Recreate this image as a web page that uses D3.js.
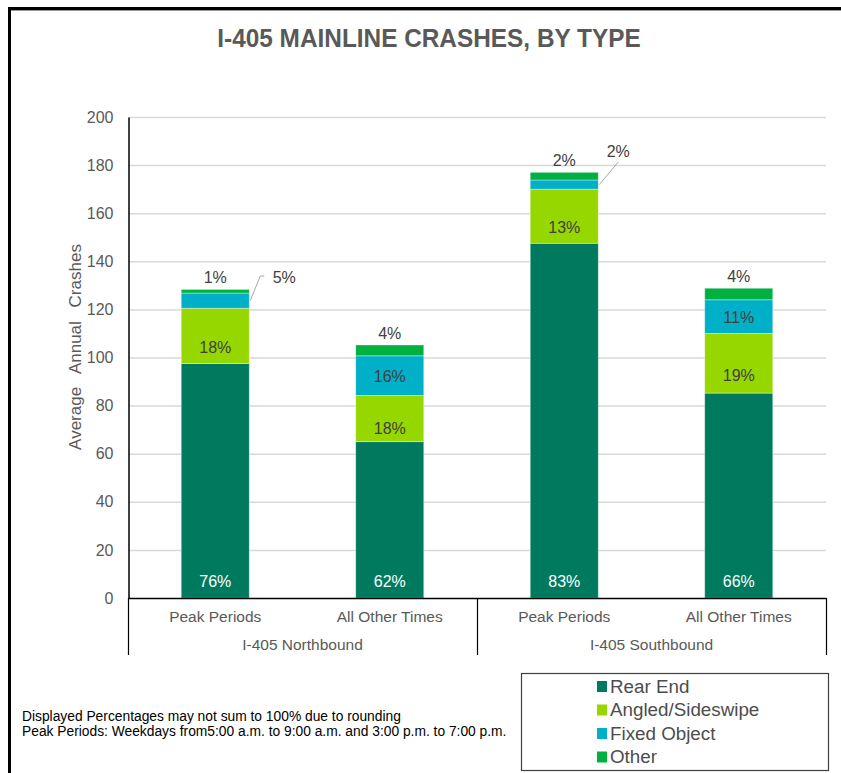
<!DOCTYPE html>
<html>
<head>
  <meta charset="utf-8" />
  <style>
    body { margin: 0; background: #fff; }
    text { font-family: "Liberation Sans", Arial, sans-serif; }
  </style>
</head>
<body>
  <svg id="container" width="841" height="773"></svg>
  <script src="https://cdn.jsdelivr.net/npm/d3@7/dist/d3.min.js"></script>
<script>
var groups = ['I-405 Northbound', 'I-405 Northbound', 'I-405 Southbound', 'I-405 Southbound'];
var periods = ['Peak Periods', 'All Other Times', 'Peak Periods', 'All Other Times'];
var crashTypes = ['Rear End', 'Angled/Sideswipe', 'Fixed Object', 'Other'];
var rearEnd = [97.5, 65, 147.5, 85.2];
var angled = [23, 19.2, 22.5, 24.8];
var fixedObject = [6.3, 16.5, 3.8, 14];
var other = [1.5, 4.5, 3.2, 4.8];
var yTicks = [0, 20, 40, 60, 80, 100, 120, 140, 160, 180, 200];
var colors = ['#007a5e', '#97d700', '#00afc8', '#00b140'];

var svg = d3.select('#container');
var plotLeft = 128, plotRight = 826, plotTop = 117, plotBottom = 598;

// frame
svg.append('path')
  .attr('d', 'M9.5,773V8.5H841')
  .attr('fill', 'none')
  .attr('stroke', '#000')
  .attr('stroke-width', 3);
svg.append('line')
  .attr('x1', 11).attr('x2', 841).attr('y1', 10.5).attr('y2', 10.5)
  .attr('stroke', '#999').attr('stroke-width', 1);

svg.append('text')
  .attr('transform', 'translate(429,47) scale(0.92,1)')
  .attr('text-anchor', 'middle')
  .attr('font-size', 26.5).attr('font-weight', 'bold')
  .attr('fill', '#595959')
  .text('I-405 MAINLINE CRASHES, BY TYPE');

var y = d3.scaleLinear().domain([0, 200]).range([plotBottom, plotTop]);
var x = d3.scaleBand().domain(d3.range(4)).range([plotLeft, plotRight]);
var barW = x.bandwidth() * 0.39;

// gridlines
svg.append('g').selectAll('line')
  .data(yTicks.slice(1))
  .enter().append('line')
  .attr('x1', plotLeft).attr('x2', plotRight)
  .attr('y1', function (d) { return y(d) + 0.5; })
  .attr('y2', function (d) { return y(d) + 0.5; })
  .attr('stroke', '#d9d9d9').attr('stroke-width', 1.5);

var yAxis = svg.append('g')
  .attr('transform', 'translate(' + (plotLeft + 0.5) + ',0)')
  .call(d3.axisLeft(y).tickValues(yTicks).tickSize(0).tickPadding(15));
yAxis.select('.domain').attr('stroke', '#000').attr('stroke-width', 1.5);
yAxis.selectAll('text')
  .attr('font-family', '"Liberation Sans", Arial, sans-serif')
  .attr('font-size', 16).attr('fill', '#595959');

svg.append('text')
  .attr('transform', 'translate(81,347) rotate(-90)')
  .attr('text-anchor', 'middle')
  .attr('font-size', 17).attr('fill', '#595959')
  .attr('word-spacing', 9)
  .text('Average Annual Crashes');

// stacked bars
var rows = d3.range(4).map(function (i) {
  return { 'Rear End': rearEnd[i], 'Angled/Sideswipe': angled[i], 'Fixed Object': fixedObject[i], 'Other': other[i], idx: i };
});
var stacked = d3.stack().keys(crashTypes)(rows);
var totals = rows.map(function (r) { return d3.sum(crashTypes, function (k) { return r[k]; }); });

var layer = svg.append('g').selectAll('g')
  .data(stacked)
  .enter().append('g')
  .attr('fill', function (d, i) { return colors[i]; });
layer.selectAll('rect')
  .data(function (d) { return d; })
  .enter().append('rect')
  .attr('x', function (d) { return x(d.data.idx) + (x.bandwidth() - barW) / 2; })
  .attr('width', barW)
  .attr('y', function (d) { return y(d[1]); })
  .attr('height', function (d) { return y(d[0]) - y(d[1]); })
  .attr('stroke', 'rgba(255,255,255,0.45)').attr('stroke-width', 0.8);

// x axis + category lines
svg.append('line')
  .attr('x1', plotLeft).attr('x2', plotRight).attr('y1', plotBottom + 0.5).attr('y2', plotBottom + 0.5)
  .attr('stroke', '#000').attr('stroke-width', 1.5);
svg.append('g').selectAll('line')
  .data([plotLeft, (plotLeft + plotRight) / 2, plotRight])
  .enter().append('line')
  .attr('x1', function (d) { return d + 0.5; }).attr('x2', function (d) { return d + 0.5; })
  .attr('y1', plotBottom).attr('y2', 655)
  .attr('stroke', '#000').attr('stroke-width', 1.2);
svg.append('g').selectAll('text')
  .data(periods)
  .enter().append('text')
  .attr('x', function (d, i) { return x(i) + x.bandwidth() / 2; })
  .attr('y', 622)
  .attr('text-anchor', 'middle')
  .attr('font-size', 15.5).attr('fill', '#595959')
  .text(function (d) { return d; });
svg.append('g').selectAll('text')
  .data([0, 2])
  .enter().append('text')
  .attr('x', function (i) { return x(i) + x.bandwidth(); })
  .attr('y', 650)
  .attr('text-anchor', 'middle')
  .attr('font-size', 15.5).attr('fill', '#595959')
  .text(function (i) { return groups[i]; });

// data labels
var pct = d3.format('.0%');
var labels = svg.append('g').attr('font-size', 16).attr('text-anchor', 'middle');
stacked.forEach(function (s, k) {
  s.forEach(function (d, i) {
    var cx = x(i) + x.bandwidth() / 2;
    var p = pct((d[1] - d[0]) / totals[i]);
    var ly, fill = '#404040';
    if (k === 0) { ly = plotBottom - 11; fill = '#fff'; }
    else if (k === 1) { ly = y(d[1]) + 0.7 * (y(d[0]) - y(d[1])) + 6; }
    else if (k === 3) { ly = y(d[1]) - 6; }
    else if (k === 2 && (d[1] - d[0]) < 8) {
      // callout with leader line
      var x0 = cx + barW / 2 + 1, y0 = (y(d[0]) + y(d[1])) / 2;
      if (i === 0) {
        var ey = y(d[1]) - 17;
        svg.append('path')
          .attr('d', 'M' + x0 + ',' + y0 + 'L' + (x0 + 10) + ',' + ey + 'h4')
          .attr('fill', 'none').attr('stroke', '#a6a6a6').attr('stroke-width', 1);
        labels.append('text').attr('x', x0 + 34).attr('y', ey + 7).attr('fill', fill).text(p);
      } else {
        var ey2 = y(d[1]) - 18;
        svg.append('path')
          .attr('d', 'M' + x0 + ',' + y0 + 'L' + (x0 + 19) + ',' + ey2)
          .attr('fill', 'none').attr('stroke', '#a6a6a6').attr('stroke-width', 1);
        labels.append('text').attr('x', x0 + 19).attr('y', ey2 - 5).attr('fill', fill).text(p);
      }
      return;
    }
    else { ly = (y(d[0]) + y(d[1])) / 2 + 6; }
    labels.append('text').attr('x', cx).attr('y', ly).attr('fill', fill).text(p);
  });
});

// footnote
svg.append('g')
  .attr('font-size', 13.8).attr('fill', '#000')
  .selectAll('text')
  .data(['Displayed Percentages may not sum to 100% due to rounding',
         'Peak Periods: Weekdays from5:00 a.m. to 9:00 a.m. and 3:00 p.m. to 7:00 p.m.'])
  .enter().append('text')
  .attr('x', 22)
  .attr('y', function (d, i) { return 721 + i * 15; })
  .attr('font-family', '"Liberation Sans Narrow", "Arial Narrow", sans-serif')
  .text(function (d) { return d; });

// legend
svg.append('rect')
  .attr('x', 521.5).attr('y', 673.5).attr('width', 307).attr('height', 97)
  .attr('fill', '#fff').attr('stroke', '#404040').attr('stroke-width', 1.2);
var leg = svg.append('g').selectAll('g')
  .data(crashTypes)
  .enter().append('g')
  .attr('transform', function (d, i) { return 'translate(597,' + (686 + i * 23.5) + ')'; });
leg.append('rect')
  .attr('x', 0).attr('y', -5).attr('width', 10).attr('height', 11)
  .attr('fill', function (d, i) { return colors[i]; });
leg.append('text')
  .attr('x', 13).attr('y', 6.5)
  .attr('font-size', 18.8).attr('fill', '#4d4d4d')
  .text(function (d) { return d; });
</script>
</body>
</html>
